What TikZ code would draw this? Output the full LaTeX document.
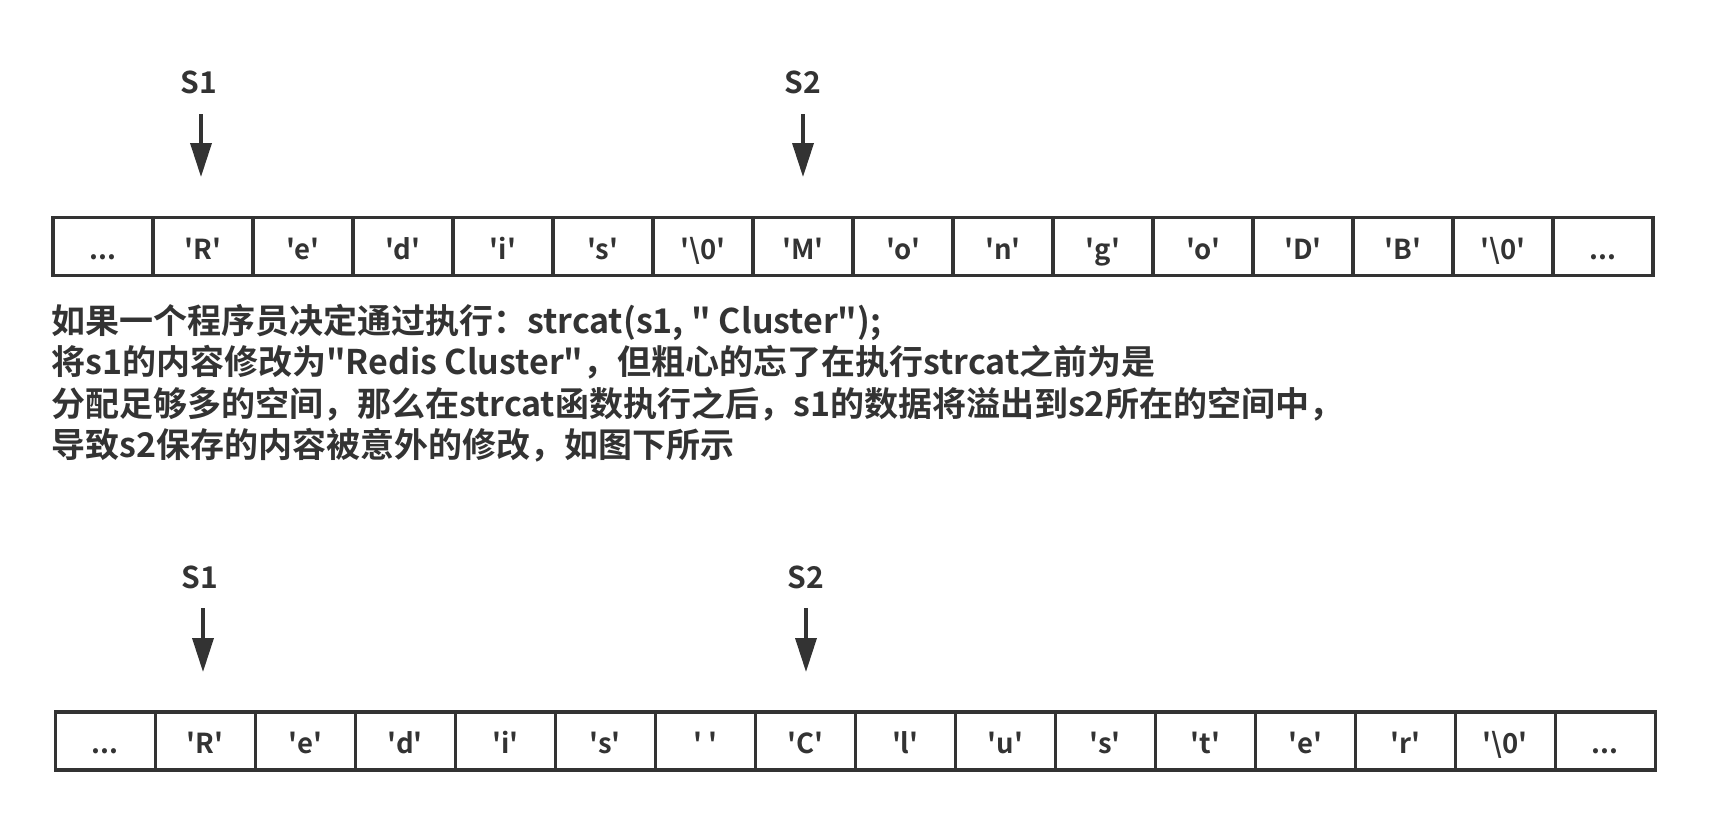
\documentclass[tikz,border=0pt]{standalone}
\usepackage{fontspec}
\newfontfamily\cjk{Noto Sans CJK SC}[BoldFont={Noto Sans CJK SC Bold}]
\usetikzlibrary{arrows.meta}
\definecolor{ink}{HTML}{333333}
\newcommand\celldots{...}
\begin{document}
\begin{tikzpicture}[x=1pt,y=-1pt,
  cell/.style={draw=ink, line width=3.5pt, minimum width=100pt, minimum height=58pt,
    inner sep=0pt, outer sep=0pt, text height=25pt, text depth=0pt, text=ink,
    font=\cjk\bfseries\fontsize{27.5}{30}\selectfont},
  lbl/.style={anchor=base, inner sep=0pt, text=ink,
    font=\cjk\bfseries\fontsize{30}{34}\selectfont},
  para/.style={anchor=base west, inner sep=0pt, text=ink,
    font=\cjk\bfseries\fontsize{34}{41}\selectfont},
  ptr/.style={draw=ink, line width=3.5pt, -{Triangle[length=34pt,width=21pt]}}]
\useasboundingbox[fill=white] (0,0) rectangle (1710,820);

% top row
\foreach \t [count=\i] in {\celldots,'R','e','d','i','s','\textbackslash 0','M','o','n','g','o','D','B','\textbackslash 0',\celldots}
  \node[cell] (t\i) at ({3+100*\i},246.5) {\t};

% bottom row
\foreach \t [count=\i] in {\celldots,'R','e','d','i','s',{' '},'C','l','u','s','t','e','r','\textbackslash 0',\celldots}
  \node[cell] (b\i) at ({5.3+100*\i},741) {\t};

% pointers top
\node[lbl] (ts1) at (199,93) {S1};
\node[lbl] (ts2) at (803,93) {S2};
\coordinate (ta1) at (201,114);
\coordinate (tb1) at (201,177);
\coordinate (ta2) at (803,114);
\coordinate (tb2) at (803,177);
\draw[ptr] (ta1) -- (tb1);
\draw[ptr] (ta2) -- (tb2);

% pointers bottom
\node[lbl] (bs1) at (200,588) {S1};
\node[lbl] (bs2) at (805.5,588) {S2};
\coordinate (ba1) at (203,608);
\coordinate (bb1) at (203,672);
\coordinate (ba2) at (806,608);
\coordinate (bb2) at (806,672);
\draw[ptr] (ba1) -- (bb1);
\draw[ptr] (ba2) -- (bb2);

% paragraph
\node[para] (p1) at (51,333) {如果一个程序员决定通过执行：strcat(s1, " Cluster");};
\node[para] (p2) at (51,374.5) {将s1的内容修改为"Redis Cluster"，但粗心的忘了在执行strcat之前为是};
\node[para] (p3) at (51,416) {分配足够多的空间，那么在strcat函数执行之后，s1的数据将溢出到s2所在的空间中，};
\node[para] (p4) at (51,457.5) {导致s2保存的内容被意外的修改，如图下所示};
\end{tikzpicture}
\end{document}
